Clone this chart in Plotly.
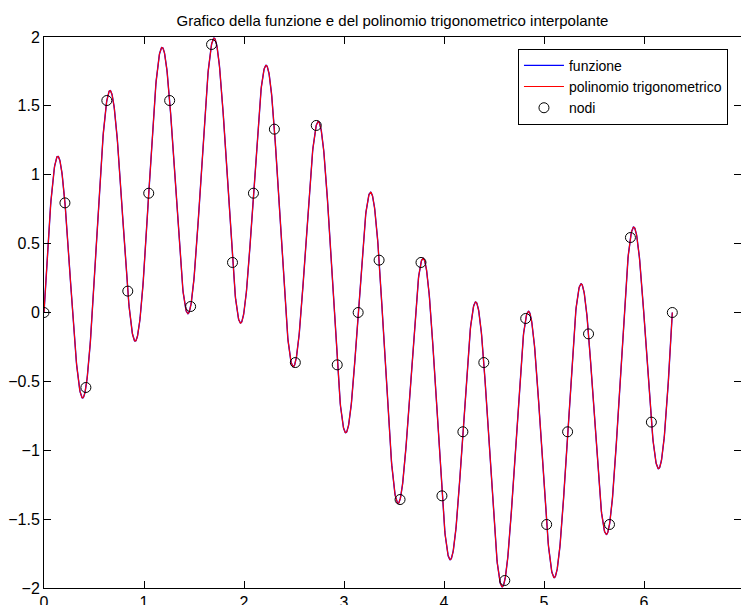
import numpy as np
import plotly.graph_objects as go

title_text = "Grafico della funzione e del polinomio trigonometrico interpolante"
legend_names = ["funzione", "polinomio trigonometrico", "nodi"]

# interpolation nodes (31 equispaced points on [0, 2*pi])
node_x = [0.0000, 0.2094, 0.4189, 0.6283, 0.8378, 1.0472, 1.2566, 1.4661,
          1.6755, 1.8850, 2.0944, 2.3038, 2.5133, 2.7227, 2.9322, 3.1416,
          3.3510, 3.5605, 3.7699, 3.9794, 4.1888, 4.3982, 4.6077, 4.8171,
          5.0265, 5.2360, 5.4454, 5.6549, 5.8643, 6.0737, 6.2832]
node_y = [0.0000, 0.7957, -0.5444, 1.5389, 0.1553, 0.8660, 1.5389, 0.0434,
          1.9456, 0.3633, 0.8660, 1.3309, -0.3633, 1.3578, -0.3799, 0.0000,
          0.3799, -1.3578, 0.3633, -1.3309, -0.8660, -0.3633, -1.9456, -0.0434,
          -1.5389, -0.8660, -0.1553, -1.5389, 0.5444, -0.7957, 0.0000]

x_ticks = [0, 1, 2, 3, 4, 5, 6, 7]
y_ticks = [-2, -1.5, -1, -0.5, 0, 0.5, 1, 1.5, 2]

# trigonometric interpolating polynomial computed from the nodes
period = node_x[-1]
yv = np.array(node_y[:-1])
N = len(yv)
c = np.fft.fft(yv) / N
xs = np.linspace(0, period, 2001)
t = xs * 2 * np.pi / period
p = np.zeros_like(xs, dtype=complex)
for k in range(-(N // 2) + 1, N // 2):
    p += c[k % N] * np.exp(1j * k * t)
if N % 2 == 0:
    p += c[N // 2].real * np.cos(N // 2 * t)
curve = p.real

font = "Liberation Sans, Arial, Helvetica, sans-serif"

fig = go.Figure()
fig.add_trace(go.Scatter(x=xs, y=curve, mode="lines", name=legend_names[0],
                         line=dict(color="#0000ff", width=1.4)))
fig.add_trace(go.Scatter(x=xs, y=curve, mode="lines", name=legend_names[1],
                         line=dict(color="#ff0000", width=1.1)))
fig.add_trace(go.Scatter(x=node_x, y=node_y, mode="markers", name=legend_names[2],
                         marker=dict(symbol="circle-open", size=10, color="black",
                                     line=dict(width=1, color="black"))))
# invisible trace to carry the right-hand tick marks
fig.add_trace(go.Scatter(x=[0], y=[0], yaxis="y2", mode="markers",
                         marker=dict(opacity=0), showlegend=False, hoverinfo="skip"))

fig.update_layout(
    width=741, height=605,
    margin=dict(l=44, r=0, t=37, b=17),
    paper_bgcolor="white", plot_bgcolor="white",
    font=dict(family=font, size=16, color="black"),
    title=dict(text=title_text, x=0.5, xref="paper", y=1 - 21 / 605,
               yanchor="middle", xanchor="center",
               font=dict(family=font, size=15, color="black")),
    showlegend=True,
    legend=dict(x=0.9813, y=0.9787, xanchor="right", yanchor="top",
                bgcolor="white", bordercolor="black", borderwidth=1,
                font=dict(family=font, size=14, color="black"),
                itemwidth=40, tracegroupgap=0),
    xaxis=dict(range=[0, 6.97], tickvals=x_ticks, ticktext=[str(v) for v in x_ticks],
               ticks="inside", ticklen=7, tickcolor="black", showline=True,
               linecolor="black", linewidth=1, mirror="ticks", showgrid=False,
               zeroline=False, tickfont=dict(size=16), ticklabelstandoff=0,
               automargin=False),
    yaxis=dict(range=[-2, 2], tickvals=y_ticks,
               ticktext=[("\u2212" + f"{abs(v):g}") if v < 0 else f"{v:g}" for v in y_ticks],
               ticks="inside", ticklen=7, tickcolor="black", showline=True,
               linecolor="black", linewidth=1, mirror=False, showgrid=False,
               zeroline=False, tickfont=dict(size=16), ticklabelstandoff=0,
               automargin=False),
    yaxis2=dict(range=[-2, 2], overlaying="y", side="right", tickvals=y_ticks,
                ticks="inside", ticklen=7, tickcolor="black", showline=False,
                showticklabels=False, showgrid=False, zeroline=False,
                automargin=False),
)

fig.write_html("out.html")
